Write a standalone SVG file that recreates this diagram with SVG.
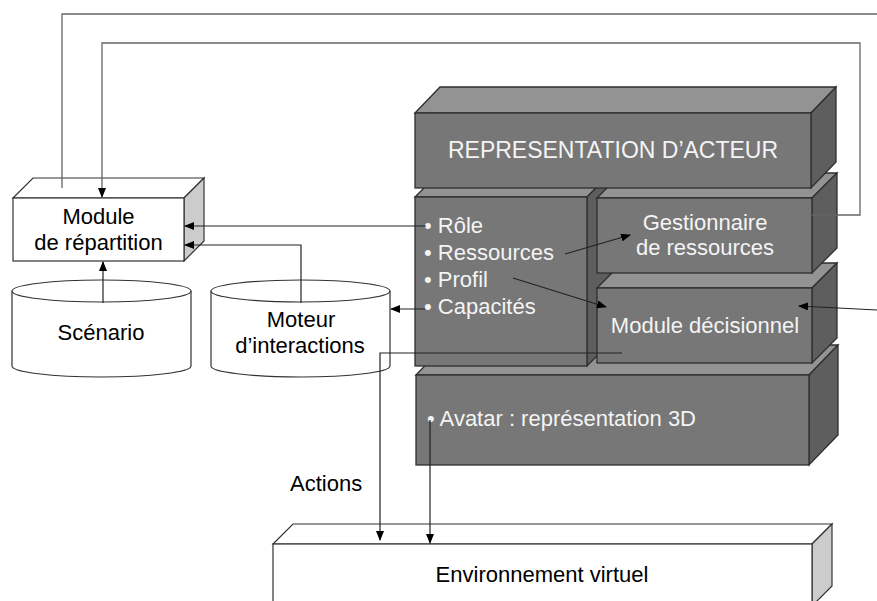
<svg xmlns="http://www.w3.org/2000/svg" width="877" height="601" viewBox="0 0 877 601">
<defs>
<style>
text{font-family:"Liberation Sans",Arial,sans-serif;font-size:22px}
.lt{fill:#000}
.wt{fill:#f4f4f4}
.c{text-anchor:middle}
.front{fill:#777777;stroke:#2e2e2e;stroke-width:1.3}
.top{fill:#939393;stroke:#2e2e2e;stroke-width:1.3}
.side{fill:#5e5e5e;stroke:#2e2e2e;stroke-width:1.3}
.wfront{fill:#fff;stroke:#333;stroke-width:1.2}
.wside{fill:#cccccc;stroke:#333;stroke-width:1.2}
.cyl{fill:#fff;stroke:#333;stroke-width:1.2}
.ln{fill:none;stroke:#222;stroke-width:1.2}
.lg{fill:none;stroke:#666;stroke-width:1.3}
</style>
<marker id="ah" markerWidth="10" markerHeight="8" refX="9" refY="4" orient="auto" markerUnits="userSpaceOnUse">
<path d="M0,0 L10,4 L0,8 Z" fill="#000"/>
</marker>
</defs>
<rect width="877" height="601" fill="#fff"/>

<g id="module-repartition">
<polygon class="wfront" points="13,198 33,178 204,178 184,198"/>
<polygon class="wside" points="184,198 204,178 204,241 184,261"/>
<rect class="wfront" x="13" y="198" width="171" height="63"/>
<text class="lt c" x="98.5" y="224">Module</text>
<text class="lt c" x="98.5" y="250">de répartition</text>
</g>

<g id="scenario">
<path class="cyl" d="M12,291 V366 A89.5,11 0 0 0 191,366 V291"/>
<ellipse class="cyl" cx="101.5" cy="291" rx="89.5" ry="11"/>
<text class="lt c" x="101" y="340">Scénario</text>
</g>

<g id="moteur">
<path class="cyl" d="M211,291 V366 A89.5,11 0 0 0 390,366 V291"/>
<ellipse class="cyl" cx="300.5" cy="291" rx="89.5" ry="11"/>
<text class="lt c" x="301" y="327">Moteur</text>
<text class="lt c" x="300" y="353">d’interactions</text>
</g>

<g id="avatar">
<polygon class="top" points="416,375 445,345 838,345 809,375"/>
<polygon class="side" points="809,375 838,345 838,435 809,465"/>
<rect class="front" x="416" y="375" width="393" height="90"/>
<text class="wt" x="427" y="426">• Avatar : représentation 3D</text>
</g>

<g id="attributs">
<polygon class="top" points="415,197 440,172 612,172 587,197"/>
<polygon class="side" points="587,197 612,172 612,341 587,366"/>
<rect class="front" x="415" y="197" width="172" height="169"/>
<text class="wt" x="424" y="233">• Rôle</text>
<text class="wt" x="424" y="260">• Ressources</text>
<text class="wt" x="424" y="287">• Profil</text>
<text class="wt" x="424" y="314">• Capacités</text>
</g>

<g id="module-decisionnel">
<polygon class="top" points="597,288 622,263 837,263 812,288"/>
<polygon class="side" points="812,288 837,263 837,338 812,363"/>
<rect class="front" x="597" y="288" width="215" height="75"/>
<text class="wt c" x="705" y="333">Module décisionnel</text>
</g>

<g id="gestionnaire">
<polygon class="top" points="597,198 622,173 837,173 812,198"/>
<polygon class="side" points="812,198 837,173 837,248 812,273"/>
<rect class="front" x="597" y="198" width="215" height="75"/>
<text class="wt c" x="705" y="230">Gestionnaire</text>
<text class="wt c" x="705" y="255">de ressources</text>
</g>

<g id="representation">
<polygon class="top" points="415,113 440,87 836,87 811,113"/>
<polygon class="side" points="811,113 836,87 836,162 811,188"/>
<rect class="front" x="415" y="113" width="396" height="75"/>
<text class="wt c" x="613" y="158" style="font-size:23px">REPRESENTATION D’ACTEUR</text>
</g>

<g id="environnement">
<polygon class="wfront" points="273,544 293,524 832,524 812,544"/>
<polygon class="wside" points="812,544 832,524 832,586 812,606"/>
<rect class="wfront" x="273" y="544" width="539" height="62"/>
<text class="lt c" x="542" y="582">Environnement virtuel</text>
</g>

<g id="connectors">
<path class="lg" d="M62,188 V14 H877"/>
<path class="lg" d="M812,215 H860 V43 H102 V197" marker-end="url(#ah)"/>
<path class="ln" d="M426,226 H185" marker-end="url(#ah)"/>
<path class="ln" d="M301,303 V245 H185" marker-end="url(#ah)"/>
<path class="ln" d="M103,303 V262" marker-end="url(#ah)"/>
<path class="ln" d="M425,309 H391" marker-end="url(#ah)"/>
<path class="ln" d="M565,254 L630,235" marker-end="url(#ah)"/>
<path class="ln" d="M513,278 L606,307" marker-end="url(#ah)"/>
<path class="ln" d="M877,310 L799,306" marker-end="url(#ah)"/>
<path class="ln" d="M622,353 H380 V540" marker-end="url(#ah)"/>
<path class="ln" d="M430,420 V543" marker-end="url(#ah)"/>
<text class="lt" x="290" y="491">Actions</text>
</g>
</svg>
